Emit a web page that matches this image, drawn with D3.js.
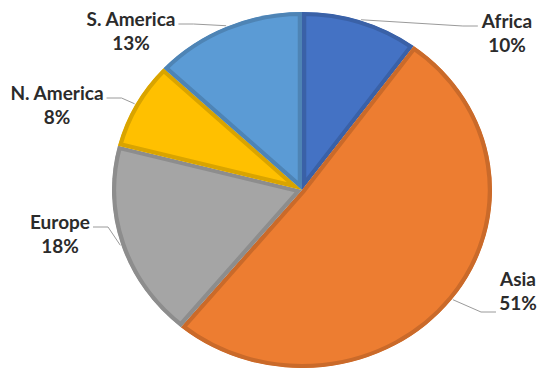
<!DOCTYPE html>
<html>
<head>
<meta charset="utf-8">
<script src="https://cdn.jsdelivr.net/npm/d3@7"></script>
<style>
    html, body { margin: 0; padding: 0; background: #fff; }
    svg { display: block; }
    .label { font-family: Lato, "Open Sans", sans-serif; font-weight: bold; font-size: 19px; fill: #2b2b2b; }
    .leader { fill: none; stroke: #9a9a9a; stroke-width: 1; }
</style>
</head>
<body>
<script>
// Slices go clockwise from 12 o'clock, same order as the chart
const categories = ["Africa", "Asia", "Europe", "N. America", "S. America"];
const shares = [10, 51, 18, 8, 13];
const sliceColors = ["#4472C4", "#ED7D31", "#A5A5A5", "#FFC000", "#5B9BD5"];

// hand placed data labels: text centre x, first baseline y, where the leader attaches
const labelSpots = [
    {x: 507, y: 28, side: "left", line: 0},
    {x: 518, y: 286, side: "left", line: 1},
    {x: 60, y: 229, side: "right", line: 0},
    {x: 57, y: 100, side: "right", line: 0},
    {x: 131, y: 26, side: "right", line: 0}
];

const width = 539;
const height = 368;
const cx = 302, cy = 190;
const rx = 190, ry = 178; // the picture is a little wider than tall
const lineGap = 24;

const svg = d3.select("body").append("svg")
    .attr("width", width)
    .attr("height", height);

const data = categories.map((name, i) => ({name, value: shares[i], color: sliceColors[i], spot: labelSpots[i]}));

const pie = d3.pie().sort(null).value(d => d.value);
const arcs = pie(data);
const arc = d3.arc().innerRadius(0).outerRadius(ry);

const defs = svg.append("defs");
defs.selectAll("clipPath")
    .data(arcs)
    .join("clipPath")
    .attr("id", (d, i) => "slice-clip-" + i)
    .append("path")
    .attr("d", arc);

const pieG = svg.append("g")
    .attr("transform", `translate(${cx},${cy}) scale(${rx / ry},1)`);

// fill + darker inner border (stroke is clipped to the slice so only the inside half shows)
pieG.selectAll("path.slice")
    .data(arcs)
    .join("path")
    .attr("class", "slice")
    .attr("d", arc)
    .attr("fill", d => d.data.color)
    .attr("stroke", d => d3.color(d.data.color).darker(0.45))
    .attr("stroke-width", 8)
    .attr("stroke-linejoin", "round")
    .attr("clip-path", (d, i) => `url(#slice-clip-${i})`);

// labels
const labels = svg.append("g").selectAll("text")
    .data(arcs)
    .join("text")
    .attr("class", "label")
    .attr("text-anchor", "middle")
    .attr("x", d => d.data.spot.x)
    .attr("y", d => d.data.spot.y);

labels.append("tspan")
    .attr("x", d => d.data.spot.x)
    .text(d => d.data.name);

labels.append("tspan")
    .attr("x", d => d.data.spot.x)
    .attr("dy", lineGap)
    .text(d => d3.format(".0%")(d.value / d3.sum(shares)));

// leader lines: from the slice's outer mid point, bend, then flat into the label
labels.each(function(d) {
    const box = this.getBBox();
    const mid = (d.startAngle + d.endAngle) / 2;
    const start = [cx + (rx + 1) * Math.sin(mid), cy - (ry + 1) * Math.cos(mid)];
    const s = d.data.spot;
    const endY = s.line === 0 ? s.y - 2 : s.y + lineGap + 2;
    const endX = s.side === "left" ? box.x - 3 : box.x + box.width + 3;
    const elbowX = s.side === "left" ? endX - 15 : endX + 15;

    svg.append("path")
        .attr("class", "leader")
        .attr("d", d3.line()([start, [elbowX, endY], [endX, endY]]));
});
</script>
</body>
</html>
